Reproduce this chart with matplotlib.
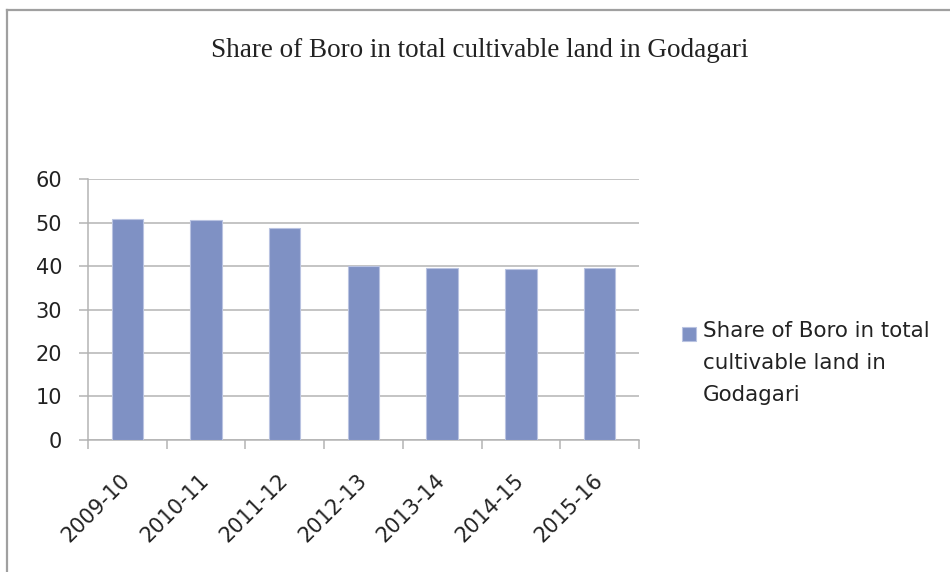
import matplotlib.pyplot as plt
from matplotlib.lines import Line2D
from matplotlib.patches import Rectangle
import numpy as np

# Boro share of cultivable land, per fiscal year
years = ["2009-10", "2010-11", "2011-12", "2012-13", "2013-14", "2014-15", "2015-16"]
share = [50.8, 50.5, 48.8, 40.0, 39.5, 39.2, 39.5]
series_name = "Share of Boro in total cultivable land in Godagari"
legend_text = "Share of Boro in total\ncultivable land in\nGodagari"

bar_color = "#7F91C4"
grid_color = "#B4B4B4"
sans = "DejaVu Sans"

fig = plt.figure(figsize=(9.5, 5.72), dpi=100)
ax = fig.add_axes([0.0926, 0.2308, 0.58, 0.4562])

x = np.arange(len(years))
ax.bar(x, share, width=0.4, color=bar_color, edgecolor="#B9C3E1", linewidth=0.8, zorder=3)

ax.set_xlim(-0.5, len(years) - 0.5)
ax.set_ylim(0, 60)
ax.set_yticks(range(0, 61, 10))
ax.yaxis.grid(True, color=grid_color, linewidth=1.1)
ax.set_axisbelow(True)

# category labels at centres, tick marks on the boundaries
ax.set_xticks(x)
ax.set_xticklabels(years, rotation=45, ha="right", va="center", rotation_mode="anchor")
ax.set_xticks(np.arange(-0.5, len(years)), minor=True)
ax.tick_params(axis="x", which="major", length=0, pad=27)
ax.tick_params(axis="x", which="minor", length=6.5, width=1.1, color=grid_color)
ax.tick_params(axis="y", length=6.5, width=1.1, color=grid_color, pad=12)
for lab in ax.get_xticklabels() + ax.get_yticklabels():
    lab.set_fontfamily(sans)
    lab.set_fontsize(15)
    lab.set_color("#222222")

for side in ["top", "right"]:
    ax.spines[side].set_visible(False)
for side in ["left", "bottom"]:
    ax.spines[side].set_color(grid_color)
    ax.spines[side].set_linewidth(1.1)

fig.text(0.505, 1 - 57 / 572, series_name, ha="center", va="baseline",
         fontfamily="Liberation Serif", fontsize=19.5, color="#222222")

# legend entry
fig.add_artist(Rectangle((682 / 950, 1 - 341 / 572), 14 / 950, 14 / 572,
                         transform=fig.transFigure, facecolor=bar_color,
                         edgecolor="#B9C3E1", linewidth=0.8))
fig.text(703 / 950, 1 - 321 / 572, legend_text, ha="left", va="top",
         fontfamily=sans, fontsize=15.4, linespacing=1.75, color="#222222")

# outer frame (top and left edges)
frame = "#A0A0A0"
fig.add_artist(Line2D([7 / 950, 1], [1 - 10 / 572, 1 - 10 / 572], color=frame, linewidth=1.6,
                      transform=fig.transFigure))
fig.add_artist(Line2D([7 / 950, 7 / 950], [0, 1 - 10 / 572], color=frame, linewidth=1.6,
                      transform=fig.transFigure))

fig.savefig("out.png", dpi=100)
